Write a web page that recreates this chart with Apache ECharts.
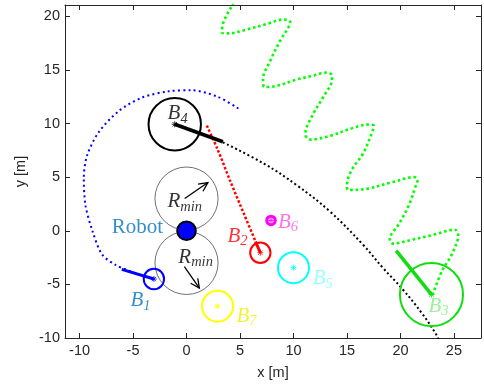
<!DOCTYPE html>
<html><head><meta charset="utf-8">
<script src="https://cdn.jsdelivr.net/npm/echarts@6/dist/echarts.min.js"></script>
<style>html,body{margin:0;padding:0;background:#fff}#c{width:484px;height:385px}</style>
</head><body><div id="c"></div>
<script>
// axis ranges and ticks
const xMin = -11.36, xMax = 27.53, yMin = -10, yMax = 21.05;
const xTicks = [-10, -5, 0, 5, 10, 15, 20, 25];
const yTicks = [-10, -5, 0, 5, 10, 15, 20];

// obstacles B1..B7
const obsName = ['B', 'B', 'B', 'B', 'B', 'B', 'B'];
const obsSub = ['1', '2', '3', '4', '5', '6', '7'];
const obsX = [-3.05, 6.9, 22.9, -1.1, 10.0, 7.9, 2.9];
const obsY = [-4.5, -2.05, -5.95, 9.93, -3.44, 0.96, -7.03];
const obsR = [0.95, 0.95, 2.95, 2.45, 1.45, 0.4, 1.45];
const obsLabelX = [-4.3, 4.77, 23.56, -0.83, 12.73, 9.49, 5.6];
const obsLabelY = [-6.57, -0.58, -7.12, 10.85, -4.54, 0.71, -8.05];

// robot and minimum turning circles
const robotX = [0], robotY = [0], robotR = [0.87];
const robotLabelX = [-4.6], robotLabelY = [0.3];
const rminX = [0, 0], rminY = [3, -3], rminR = [2.95, 2.95];
const rminLabelX = [-0.17, 0.85], rminLabelY = [2.65, -2.5];
const arrowX0 = [-0.17, -0.2], arrowY0 = [3.0, -3.35];
const arrowX1 = [2.0, 1.2], arrowY1 = [4.5, -5.35];

// thick heading segments [from obstacle centre to end]
const blueSeg = [[-3.05, -4.5], [-6.05, -3.6]];
const redSeg = [[6.9, -2.05], [6.45, -1.0]];
const greenSeg = [[22.9, -5.95], [19.6, -1.85]];
const blackSeg = [[-1.1, 9.93], [3.4, 8.3]];

// dotted trajectories
const bluePath = [[4.85, 11.4], [2.9, 12.5], [0.45, 13.1], [-1.7, 13.0], [-4.2, 12.4], [-6.35, 11.15], [-8.2, 9.2], [-9.3, 7.0], [-9.6, 4.9], [-9.45, 2.4], [-8.8, 0.0], [-7.9, -2.2], [-6.6, -3.2], [-4.9, -3.9]];
const redPath = [[1.9, 9.8], [2.9, 7.6], [4.1, 4.6], [5.4, 1.5], [6.45, -1.0]];
const blackPath = [[3.4, 8.25], [7.25, 6.25], [10.3, 4.25], [13.4, 1.8], [16.5, -1.3], [18.35, -3.45], [20.2, -5.45], [22.05, -7.75], [23.3, -9.6], [23.6, -10.2]];
const greenPath = [[23.0, -6.0], [23.9, -3.7], [24.8, -2.2], [25.4, -0.4], [25.1, 0.1], [23.0, -0.4], [20.8, -0.9], [19.3, -1.2], [19.0, -0.8], [19.9, 0.7], [20.8, 2.4], [21.4, 4.1], [21.6, 4.7], [21.3, 5.0], [19.3, 4.55], [16.8, 3.9], [15.1, 3.8], [15.0, 4.2], [15.4, 5.6], [16.5, 7.2], [17.4, 9.3], [17.5, 9.8], [17.0, 9.9], [15.6, 9.6], [13.4, 8.85], [11.6, 8.5], [11.1, 9.0], [11.9, 11.0], [12.8, 12.5], [13.6, 14.1], [13.6, 14.5], [13.1, 14.75], [11.6, 14.4], [10.3, 14.1], [8.15, 13.45], [7.3, 13.4], [7.15, 14.1], [7.85, 15.9], [8.8, 17.8], [9.55, 19.0], [9.7, 19.45], [9.1, 19.7], [7.55, 19.3], [5.4, 18.7], [3.85, 18.4], [3.3, 18.5], [3.4, 19.3], [3.8, 20.2], [4.15, 20.8], [4.5, 21.6]];

// styles
const obsColor = ['#0000ff', '#ff0000', '#11dd11', '#000000', '#00ffff', '#ff00ff', '#ffff00'];
const obsLabelColor = ['#0072bd', '#ff0000', '#80ee80', '#000000', '#80ffff', '#ff55dd', '#f2ee00'];
const serif = 'Liberation Serif, Times New Roman, serif';
const sans = 'Liberation Sans, Arial, sans-serif';
const axisColor = '#262626';

function richFor(color) {
  return {
    m: { fontFamily: serif, fontStyle: 'italic', fontSize: 21, color: color, verticalAlign: 'bottom', lineHeight: 24, padding: [0, 0, 2, 0] },
    s: { fontFamily: serif, fontStyle: 'italic', fontSize: 14.5, color: color, verticalAlign: 'bottom', lineHeight: 24 }
  };
}

function asterisk(cx, cy, col) {
  const s = 3, d = 2.2, out = [];
  [[0, -s, 0, s], [-s, 0, s, 0], [-d, -d, d, d], [-d, d, d, -d]].forEach(function (l) {
    out.push({ type: 'line', shape: { x1: cx + l[0], y1: cy + l[1], x2: cx + l[2], y2: cy + l[3] }, style: { stroke: col, lineWidth: 0.8 } });
  });
  return out;
}

const chart = echarts.init(document.getElementById('c'), null, { renderer: 'canvas' });

const labelFmt = function (v) {
  return Math.abs(v / 5 - Math.round(v / 5)) < 1e-6 ? String(Math.round(v)) : '';
};

const option = {
  animation: false,
  backgroundColor: '#ffffff',
  grid: { left: 65, top: 5, width: 420, height: 337 },
  xAxis: [{
    type: 'value', min: xMin, max: xMax, minInterval: 5, maxInterval: 5,
    position: 'bottom',
    name: 'x [m]', nameLocation: 'middle', nameGap: 27,
    nameTextStyle: { fontFamily: sans, fontSize: 14.5, color: axisColor },
    axisLine: { show: true, onZero: false, lineStyle: { color: axisColor, width: 1 } },
    axisTick: { show: true, inside: true, length: 5, lineStyle: { color: axisColor } },
    axisLabel: { formatter: labelFmt, fontFamily: sans, fontSize: 14.5, color: axisColor, margin: 5 },
    splitLine: { show: false }
  }, {
    type: 'value', min: xMin, max: xMax, minInterval: 5, maxInterval: 5,
    position: 'top',
    axisLine: { show: true, onZero: false, lineStyle: { color: axisColor, width: 1 } },
    axisTick: { show: true, inside: true, length: 5, lineStyle: { color: axisColor } },
    axisLabel: { show: false },
    splitLine: { show: false }
  }],
  yAxis: [{
    type: 'value', min: yMin, max: yMax, minInterval: 5, maxInterval: 5,
    position: 'left',
    name: 'y [m]', nameLocation: 'middle', nameGap: 25,
    nameTextStyle: { fontFamily: sans, fontSize: 14.5, color: axisColor },
    axisLine: { show: true, onZero: false, lineStyle: { color: axisColor, width: 1 } },
    axisTick: { show: true, inside: true, length: 5, lineStyle: { color: axisColor } },
    axisLabel: { formatter: labelFmt, fontFamily: sans, fontSize: 14.5, color: axisColor, margin: 5 },
    splitLine: { show: false }
  }, {
    type: 'value', min: yMin, max: yMax, minInterval: 5, maxInterval: 5,
    position: 'right',
    axisLine: { show: true, onZero: false, lineStyle: { color: axisColor, width: 1 } },
    axisTick: { show: true, inside: true, length: 5, lineStyle: { color: axisColor } },
    axisLabel: { show: false },
    splitLine: { show: false }
  }],
  series: [
    // minimum turning circles
    {
      type: 'custom', silent: true, z: 2,
      data: rminX.map(function (x, i) { return [x, rminY[i], rminR[i]]; }),
      renderItem: function (params, api) {
        const c = api.coord([api.value(0), api.value(1)]);
        const r = api.size([api.value(2), 0])[0];
        return { type: 'circle', shape: { cx: c[0], cy: c[1], r: r }, style: { fill: 'none', stroke: '#333', lineWidth: 0.7 } };
      }
    },
    // arrows
    {
      type: 'custom', silent: true, z: 3,
      data: arrowX0.map(function (x, i) { return [x, arrowY0[i], arrowX1[i], arrowY1[i]]; }),
      renderItem: function (params, api) {
        const a = api.coord([api.value(0), api.value(1)]);
        const b = api.coord([api.value(2), api.value(3)]);
        const ang = Math.atan2(b[1] - a[1], b[0] - a[0]);
        const L = 10, w = 0.45;
        const p1 = [b[0] - L * Math.cos(ang - w), b[1] - L * Math.sin(ang - w)];
        const p2 = [b[0] - L * Math.cos(ang + w), b[1] - L * Math.sin(ang + w)];
        return { type: 'group', children: [
          { type: 'line', shape: { x1: a[0], y1: a[1], x2: b[0], y2: b[1] }, style: { stroke: '#000', lineWidth: 1.3 } },
          { type: 'polyline', shape: { points: [p1, b, p2] }, style: { stroke: '#000', lineWidth: 1.3, fill: 'none' } }
        ] };
      }
    },
    // dotted trajectories
    { type: 'line', data: bluePath, symbol: 'none', smooth: 0.3, silent: true, z: 4, lineStyle: { color: '#0000ff', width: 2, type: [2, 3.2], cap: 'butt' } },
    { type: 'line', data: redPath, symbol: 'none', smooth: 0.3, silent: true, z: 4, lineStyle: { color: '#ff0000', width: 2.5, type: [2.5, 2], cap: 'butt' } },
    { type: 'line', data: blackPath, symbol: 'none', smooth: 0.4, silent: true, z: 4, lineStyle: { color: '#000000', width: 2, type: [2, 2.6], cap: 'butt' } },
    { type: 'line', data: greenPath, symbol: 'none', smooth: 0.35, silent: true, z: 4, lineStyle: { color: '#00ff00', width: 2.6, type: [2.6, 2.8], cap: 'butt' } },
    // thick segments
    { type: 'line', data: blueSeg, symbol: 'none', silent: true, z: 5, lineStyle: { color: '#0000ff', width: 3 } },
    { type: 'line', data: redSeg, symbol: 'none', silent: true, z: 5, lineStyle: { color: '#ff0000', width: 3 } },
    { type: 'line', data: greenSeg, symbol: 'none', silent: true, z: 5, lineStyle: { color: '#11dd11', width: 3.5 } },
    { type: 'line', data: blackSeg, symbol: 'none', silent: true, z: 5, lineStyle: { color: '#000000', width: 3.5 } },
    // obstacles
    {
      type: 'custom', silent: true, z: 6,
      data: obsX.map(function (x, i) { return [x, obsY[i], obsR[i]]; }),
      renderItem: function (params, api) {
        const c = api.coord([api.value(0), api.value(1)]);
        const r = api.size([api.value(2), 0])[0];
        const col = obsColor[params.dataIndex];
        const kids = [{ type: 'circle', shape: { cx: c[0], cy: c[1], r: r }, style: { fill: 'none', stroke: col, lineWidth: params.dataIndex === 5 ? 3 : 2 } }];
        return { type: 'group', children: kids.concat(asterisk(c[0], c[1], col)) };
      }
    },
    // robot
    {
      type: 'custom', silent: true, z: 7,
      data: robotX.map(function (x, i) { return [x, robotY[i], robotR[i]]; }),
      renderItem: function (params, api) {
        const c = api.coord([api.value(0), api.value(1)]);
        const r = api.size([api.value(2), 0])[0];
        return { type: 'circle', shape: { cx: c[0], cy: c[1], r: r }, style: { fill: '#0000ff', stroke: '#000', lineWidth: 2 } };
      }
    },
    // labels
    {
      type: 'scatter', silent: true, z: 8, symbolSize: 1, itemStyle: { color: 'rgba(0,0,0,0)' },
      data: obsLabelX.map(function (x, i) {
        return { value: [x, obsLabelY[i]], label: { show: true, position: 'inside', formatter: '{m|' + obsName[i] + '}{s|' + obsSub[i] + '}', rich: richFor(obsLabelColor[i]) } };
      }).concat(rminLabelX.map(function (x, i) {
        return { value: [x, rminLabelY[i]], label: { show: true, position: 'inside', formatter: '{m|R}{s|min}', rich: richFor('#000000') } };
      })).concat(robotLabelX.map(function (x, i) {
        return { value: [x, robotLabelY[i]], label: { show: true, position: 'inside', formatter: 'Robot', fontFamily: serif, fontSize: 21, color: '#0072bd' } };
      }))
    }
  ]
};
chart.setOption(option);
</script>
</body></html>
